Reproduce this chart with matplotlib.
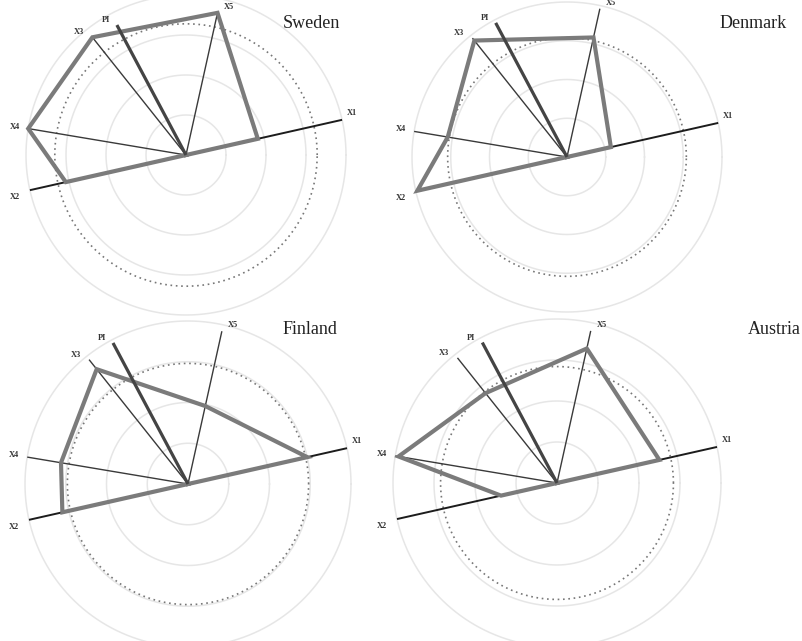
import numpy as np
import matplotlib
matplotlib.use('Agg')
import matplotlib.pyplot as plt

# spoke order the outline follows: X1 -> X5 -> X3 -> X4 -> X2
countries = ['Sweden', 'Denmark', 'Finland', 'Austria']
spoke_names = ['X1', 'X5', 'X3', 'X4', 'X2']
spoke_angle = [12.7, 77.5, 128.5, 170.5, 192.7]   # degrees
pi_angle = 118.0

# scores on each spoke (outer ring = 1)
sweden = [0.46, 0.91, 0.94, 1.00, 0.77]
denmark = [0.29, 0.79, 0.96, 0.78, 0.99]
finland = [0.75, 0.49, 0.90, 0.79, 0.79]
austria = [0.64, 0.84, 0.70, 0.98, 0.35]
scores = [sweden, denmark, finland, austria]

# drawn length of each spoke
sweden_spokes = [1.0, 0.91, 0.94, 1.0, 1.0]
denmark_spokes = [1.0, 0.98, 0.98, 1.0, 1.0]
finland_spokes = [1.0, 0.96, 0.975, 1.0, 1.0]
austria_spokes = [1.0, 0.95, 0.975, 1.0, 1.0]
spokes = [sweden_spokes, denmark_spokes, finland_spokes, austria_spokes]

pi_len = [0.92, 0.98, 0.98, 0.97]
ref_level = [0.82, 0.77, 0.74, 0.71]   # dotted reference circle
rings = [0.25, 0.5, 0.75, 1.0]

# layout (pixels)
W, H = 803, 641
centers = [(186, 155), (567, 157), (188, 484), (557, 483)]
radius = [160, 155, 163, 164]
title_pos = [(283, 24), (720, 24), (283, 330), (748, 330)]
label_off = {'X1': (10, 7), 'X2': (-15, -7), 'X4': (-13, 2),
             'X3': (-13, 5), 'X5': (11, 6), 'PI': (-11, 5)}

fig = plt.figure(figsize=(W / 100, H / 100), dpi=100)
fig.patch.set_facecolor('white')

rmax = 1.12
circle_t = np.linspace(0, 2 * np.pi, 721)

for k, name in enumerate(countries):
    cx, cy = centers[k]
    half = radius[k] * rmax
    ax = fig.add_axes([(cx - half) / W, 1 - (cy + half) / H, 2 * half / W, 2 * half / H],
                      projection='polar')
    ax.set_ylim(0, rmax)
    ax.axis('off')

    for lvl in rings:
        ax.plot(circle_t, np.full_like(circle_t, lvl), color='#e6e6e6', lw=1.1, zorder=0, clip_on=False)
    ax.plot(circle_t, np.full_like(circle_t, ref_level[k]), color='#777777', lw=1.2,
            linestyle=(0, (1, 2.2)), zorder=0.5, clip_on=False)

    th = np.deg2rad(spoke_angle)
    # spokes
    for i, sp in enumerate(spoke_names):
        if sp in ('X1', 'X2'):
            col, lw = '#1c1c1c', 1.4
        else:
            col, lw = '#3a3a3a', 1.0
        ax.plot([th[i], th[i]], [0, spokes[k][i]], color=col, lw=lw, zorder=1, clip_on=False,
                solid_capstyle='butt')
        ax.annotate(sp, (th[i], spokes[k][i]), xytext=label_off[sp], textcoords='offset pixels',
                    ha='center', va='center', fontsize=6, fontweight='bold',
                    family='Liberation Serif', color='#333333', annotation_clip=False)

    # outline: centre -> X1 -> X5 -> X3 -> X4 -> X2 -> centre
    v = scores[k]
    ax.plot([th[0]] + list(th) + [th[-1]], [0] + list(v) + [0], color='#7b7b7b', lw=3.0,
            solid_joinstyle='miter', zorder=2, clip_on=False)

    # PI spoke
    tp = np.deg2rad(pi_angle)
    ax.plot([tp, tp], [0, pi_len[k]], color='#444444', lw=2.3, zorder=3, clip_on=False,
            solid_capstyle='butt')
    ax.annotate('PI', (tp, pi_len[k]), xytext=label_off['PI'], textcoords='offset pixels',
                ha='center', va='center', fontsize=6, fontweight='bold',
                family='Liberation Serif', color='#333333', annotation_clip=False)

    tx, ty = title_pos[k]
    fig.text(tx / W, 1 - ty / H, name, ha='left', va='center', fontsize=13,
             family='Liberation Serif', color='#222222')

fig.savefig('out.png', dpi=100, facecolor='white')
